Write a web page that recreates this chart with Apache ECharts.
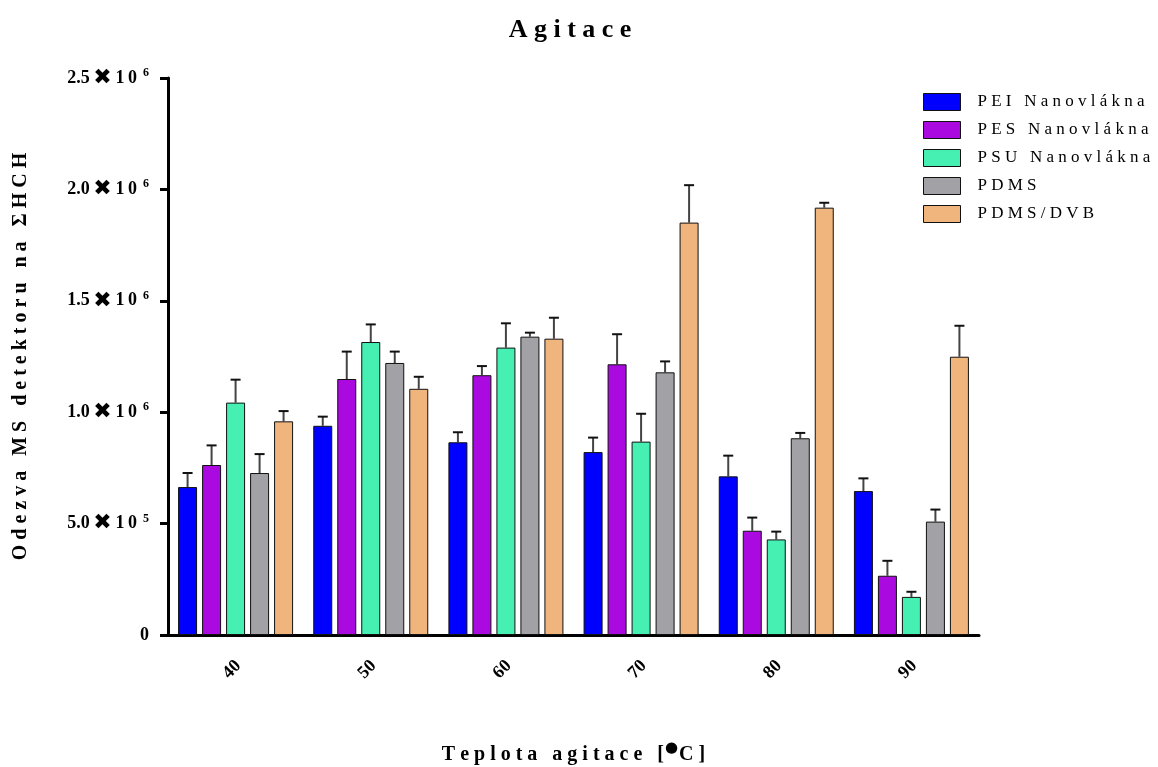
<!DOCTYPE html>
<html>
<head>
<meta charset="utf-8">
<script src="https://cdn.jsdelivr.net/npm/echarts@6/dist/echarts.min.js"></script>
<style>
  html, body { margin: 0; padding: 0; background: #fff; }
  #chart { width: 1158px; height: 767px; }
</style>
</head>
<body>
<div id="chart"></div>
<script>
// Temperatures of agitation (°C)
const categories = ['40', '50', '60', '70', '80', '90'];

// Detector response (mean) and upper error per fibre type
const peiValues  = [664000, 939000, 865000, 821000, 712000, 646000];
const peiErrors  = [63000, 41000, 45000, 65000, 93000, 57000];
const pesValues  = [763000, 1149000, 1166000, 1215000, 468000, 266000];
const pesErrors  = [88000, 123000, 41000, 135000, 59000, 67000];
const psuValues  = [1043000, 1315000, 1290000, 868000, 429000, 171000];
const psuErrors  = [103000, 79000, 109000, 125000, 35000, 23000];
const pdmsValues = [727000, 1221000, 1339000, 1179000, 883000, 509000];
const pdmsErrors = [85000, 51000, 18000, 49000, 24000, 54000];
const dvbValues  = [959000, 1105000, 1330000, 1851000, 1918000, 1249000];
const dvbErrors  = [46000, 54000, 94000, 168000, 22000, 139000];

const seriesNames = ['PEI Nanovlákna', 'PES Nanovlákna', 'PSU Nanovlákna', 'PDMS', 'PDMS/DVB'];
const yTicks = [0, 500000, 1000000, 1500000, 2000000, 2500000];

const seriesValues = [peiValues, pesValues, psuValues, pdmsValues, dvbValues];
const seriesErrors = [peiErrors, pesErrors, psuErrors, pdmsErrors, dvbErrors];
const colors = ['#0000FF', '#AA0AE0', '#45F0B2', '#A2A1A6', '#F0B57D'];

const SERIF = '"Liberation Serif", "Times New Roman", serif';
const BAR_W = 19;
const BAR_GAP = 5;

// spread letters apart
function spaced(s) { return s.split('').join(' '); }

function tickLabel(v) {
  if (v === 0) return '{m|0}';
  const exp = Math.floor(Math.log10(v));
  const mant = (v / Math.pow(10, exp)).toFixed(1);
  return '{m|' + mant + '\u2009}{x|✖}{m|\u20091\u20090}{s|  ' + exp + '}';
}

const chart = echarts.init(document.getElementById('chart'));

const barSeries = seriesNames.map((name, i) => ({
  name: spaced(name),
  type: 'bar',
  data: seriesValues[i],
  barWidth: BAR_W,
  barGap: (BAR_GAP / BAR_W * 100) + '%',
  itemStyle: { color: colors[i], borderColor: '#111', borderWidth: 1 },
  z: 2
}));

const errorSeries = seriesNames.map((name, i) => ({
  type: 'custom',
  name: 'err' + i,
  data: seriesValues[i].map((v, k) => [k, v, v + seriesErrors[i][k]]),
  z: 1,
  silent: true,
  renderItem: function (params, api) {
    const offset = (i - 2) * (BAR_W + BAR_GAP);
    const base = api.coord([api.value(0), api.value(1)]);
    const top = api.coord([api.value(0), api.value(2)]);
    const x = base[0] + offset;
    return {
      type: 'group',
      children: [
        { type: 'line', shape: { x1: x, y1: base[1], x2: x, y2: top[1] },
          style: { stroke: '#444', lineWidth: 2 } },
        { type: 'line', shape: { x1: x - 5, y1: top[1], x2: x + 5, y2: top[1] },
          style: { stroke: '#111', lineWidth: 2 } }
      ]
    };
  }
}));

chart.setOption({
  animation: false,
  backgroundColor: '#fff',
  color: colors,
  graphic: [{
    type: 'text', x: 570, y: 30,
    style: { text: spaced('Agitace'), font: 'bold 26px ' + SERIF, fill: '#000',
             align: 'center', verticalAlign: 'middle' }
  }],
  legend: {
    orient: 'vertical',
    left: 918, top: 88,
    icon: 'rect',
    itemWidth: 37, itemHeight: 17,
    itemGap: 10,
    data: seriesNames.map(spaced),
    textStyle: { fontFamily: SERIF, fontSize: 17, color: '#000', padding: [0, 0, 0, 12] },
    itemStyle: { borderColor: '#111', borderWidth: 1 }
  },
  grid: { left: 168, right: 179, top: 78, bottom: 132, containLabel: false, outerBoundsMode: 'none' },
  xAxis: {
    type: 'category',
    data: categories,
    name: spaced('Teplota agitace [') + '{d|●}' + spaced('C]'),
    nameLocation: 'middle',
    nameGap: 106,
    nameTextStyle: {
      fontFamily: SERIF, fontWeight: 'bold', fontSize: 20, color: '#000',
      rich: { d: { fontFamily: '"DejaVu Sans", sans-serif', fontSize: 15, color: '#000', padding: [0, 1, 12, 1] } }
    },
    axisLine: { lineStyle: { color: '#000', width: 3 } },
    axisTick: { alignWithLabel: true, length: 8, lineStyle: { color: '#000', width: 3 } },
    axisLabel: {
      rotate: 45, margin: 31, color: '#000',
      align: 'center', verticalAlign: 'middle',
      padding: [0, 10, 0, 0],
      fontFamily: SERIF, fontWeight: 'bold', fontSize: 18
    }
  },
  yAxis: {
    type: 'value',
    min: 0, max: 2500000, interval: 500000,
    name: spaced('Odezva MS detektoru na ΣHCH'),
    nameLocation: 'middle',
    nameGap: 137,
    nameTextStyle: { fontFamily: SERIF, fontWeight: 'bold', fontSize: 20, color: '#000' },
    axisLine: { show: true, lineStyle: { color: '#000', width: 3 } },
    axisTick: { show: true, length: 8, lineStyle: { color: '#000', width: 3 } },
    splitLine: { show: false },
    axisLabel: {
      margin: 19,
      formatter: tickLabel,
      rich: {
        m: { fontFamily: SERIF, fontWeight: 'bold', fontSize: 18, color: '#000' },
        x: { fontFamily: '"DejaVu Sans", sans-serif', fontWeight: 'bold', fontSize: 22, color: '#000' },
        s: { fontFamily: SERIF, fontWeight: 'bold', fontSize: 12, color: '#000', padding: [0, 0, 10, 0] }
      }
    }
  },
  series: [...barSeries, ...errorSeries]
});
</script>
</body>
</html>
